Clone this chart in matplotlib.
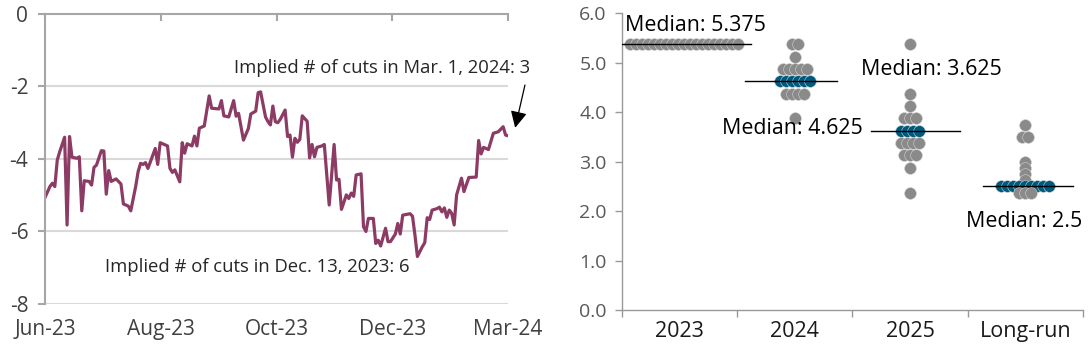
#!/usr/bin/env python3
import numpy as np
import matplotlib
matplotlib.use("Agg")
import matplotlib.pyplot as plt

plt.rcParams['font.family'] = ['Open Sans', 'DejaVu Sans']

# ============================================================================
# left panel: implied number of cuts (trading-day index, value)
days = [0, 2, 3, 4, 5, 6, 8, 9, 10, 11, 13, 14, 15, 16, 18, 19, 20, 21, 23, 24,
        25, 26, 27, 29, 31, 32, 34, 35, 37, 38, 39, 40, 41, 42, 43, 45, 46, 47,
        50, 51, 52, 53, 55, 56, 57, 58, 60, 61, 62, 63, 65, 67, 68, 71, 72, 73,
        75, 77, 78, 79, 81, 83, 84, 86, 87, 88, 90, 91, 92, 93, 94, 95, 96, 98,
        99, 100, 101, 102, 103, 104, 105, 107, 108, 109, 110, 111, 113, 114,
        116, 118, 119, 120, 121, 123, 124, 125, 126, 127, 129, 130, 131, 132,
        134, 135, 136, 137, 139, 140, 141, 143, 144, 145, 146, 149, 150, 151,
        152, 154, 155, 156, 157, 158, 160, 161, 162, 163, 164, 165, 166, 167,
        168, 170, 171, 173, 176, 177, 178, 179, 181, 183, 185, 187, 188, 189]
cuts = [-5.06, -4.76, -4.67, -4.76, -4.03, -3.80, -3.40, -5.82, -3.38, -3.95,
        -3.98, -3.94, -5.43, -4.60, -4.62, -4.72, -4.23, -4.17, -3.77, -3.78,
        -4.97, -4.32, -4.62, -4.55, -4.69, -5.24, -5.30, -5.43, -4.76, -4.35,
        -4.12, -4.15, -4.10, -4.26, -4.08, -3.71, -4.15, -3.55, -3.64, -4.26,
        -4.37, -4.30, -4.63, -3.55, -3.84, -3.58, -3.64, -3.37, -3.64, -3.15,
        -3.09, -2.26, -2.60, -2.62, -2.39, -2.81, -2.84, -2.39, -2.82, -2.74,
        -3.48, -3.16, -2.76, -2.68, -2.17, -2.15, -2.84, -2.97, -3.06, -2.54,
        -2.97, -3.00, -2.91, -2.65, -3.38, -3.34, -3.95, -3.43, -3.54, -3.46,
        -2.81, -2.96, -3.97, -3.60, -3.94, -3.68, -3.64, -3.60, -5.27, -3.60,
        -4.58, -4.56, -5.39, -4.99, -5.09, -4.94, -5.03, -4.44, -4.41, -5.87,
        -6.00, -5.64, -5.64, -6.33, -6.24, -6.40, -5.91, -6.28, -6.28, -6.07,
        -5.78, -6.07, -5.55, -5.51, -5.58, -6.10, -6.69, -6.42, -6.31, -5.62,
        -5.67, -5.41, -5.37, -5.33, -5.46, -5.35, -5.61, -5.41, -5.50, -5.82,
        -4.99, -4.53, -4.90, -4.51, -4.50, -3.49, -3.86, -3.68, -3.74, -3.29,
        -3.25, -3.11, -3.34, -3.36]
date_labels = ['Jun-23', 'Aug-23', 'Oct-23', 'Dec-23', 'Mar-24']

# right panel: FOMC dot plot (rate, number of participants)
years = ['2023', '2024', '2025', 'Long-run']
rates_2023 = [5.375]
count_2023 = [19]
rates_2024 = [5.375, 5.125, 4.875, 4.625, 4.375, 3.875]
count_2024 = [2, 1, 5, 6, 4, 1]
rates_2025 = [5.375, 4.375, 4.125, 3.875, 3.625, 3.375, 3.125, 2.875, 2.375]
count_2025 = [1, 1, 1, 3, 4, 4, 3, 1, 1]
rates_lr = [3.75, 3.5, 3.0, 2.875, 2.75, 2.625, 2.5, 2.375]
count_lr = [1, 2, 1, 1, 1, 1, 9, 3]
medians = [5.375, 4.625, 3.625, 2.5]
blue_rows = [None, 4.625, 3.625, 2.5]

LINE_C = '#8c3b65'
GRAY = '#8a8a8a'
BLUE = '#005a7e'
SPINE = '#a6a6a6'


# ============================================================================
def plot_cuts(ax):
    ax.plot(days, cuts, color=LINE_C, lw=2.3, solid_joinstyle='round')
    ax.set_xlim(0, days[-1])
    ax.set_ylim(-8, 0)
    ax.set_yticks([0, -2, -4, -6, -8])
    ax.set_yticklabels(['0', '-2', '-4', '-6', '-8'])
    ax.set_xticks(np.linspace(0, days[-1], 5))
    ax.set_xticklabels(date_labels)

    for y in [-2, -4, -6, -8]:
        ax.axhline(y, color='#d9d9d9', lw=1.5, zorder=0)

    for s in ['right', 'bottom']:
        ax.spines[s].set_visible(False)
    for s in ['left', 'top']:
        ax.spines[s].set_color(SPINE)
        ax.spines[s].set_linewidth(1.5)

    ax.tick_params(axis='x', top=True, bottom=False, labeltop=False,
                   labelbottom=True, direction='in', length=5, width=1.5,
                   color=SPINE, labelsize=15, labelcolor='#404040', pad=11)
    ax.tick_params(axis='y', direction='out', length=5, width=1.5,
                   color=SPINE, labelsize=15, labelcolor='#404040', pad=7)

    # annotations
    ax.text(198, -1.49, 'Implied # of cuts in Mar. 1, 2024: 3',
            fontsize=13.3, color='#262626', ha='right', va='center',
            clip_on=False)
    ax.annotate('', xy=(191.9, -3.14), xytext=(195.9, -1.96),
                annotation_clip=False,
                arrowprops=dict(arrowstyle='-|>', color='black', lw=0.9,
                                mutation_scale=25, shrinkA=0, shrinkB=0))
    ax.text(24.5, -6.98, 'Implied # of cuts in Dec. 13, 2023: 6',
            fontsize=13.3, color='#262626', ha='left', va='center')


# ============================================================================
def plot_dots(ax):
    all_rates = [rates_2023, rates_2024, rates_2025, rates_lr]
    all_counts = [count_2023, count_2024, count_2025, count_lr]
    step = 0.052
    for i, (rr, cc) in enumerate(zip(all_rates, all_counts)):
        for r, n in zip(rr, cc):
            xs = i + 0.04 * (i == 0) + (np.arange(n) - (n - 1) / 2.0) * step
            col = BLUE if r == blue_rows[i] else GRAY
            ax.scatter(xs, [r] * n, s=72, color=col, edgecolors='#d0d0d0',
                       linewidths=0.4, zorder=3)

    # median lines
    spans = [(-0.5, 0.62), (0.57, 1.37), (1.66, 2.43), (2.63, 3.41)]
    for (x0, x1), m in zip(spans, medians):
        ax.plot([x0, x1], [m, m], color='black', lw=1.0, zorder=4)

    ax.text(-0.47, 5.76, 'Median: 5.375', fontsize=15.4, ha='left', va='center')
    ax.text(0.37, 3.68, 'Median: 4.625', fontsize=15.4, ha='left', va='center')
    ax.text(1.57, 4.87, 'Median: 3.625', fontsize=15.4, ha='left', va='center')
    ax.text(3.49, 1.79, 'Median: 2.5', fontsize=15.4, ha='right', va='center')

    ax.set_xlim(-0.5, 3.5)
    ax.set_ylim(0, 6)
    ax.set_yticks(np.arange(0, 6.5, 1.0))
    ax.set_yticklabels(['%.1f' % v for v in np.arange(0, 6.5, 1.0)])
    ax.set_xticks(range(4))
    ax.set_xticklabels(years)
    ax.set_xticks([-0.5, 0.5, 1.5, 2.5, 3.5], minor=True)

    for s in ['right', 'top']:
        ax.spines[s].set_visible(False)
    for s in ['left', 'bottom']:
        ax.spines[s].set_color('#999999')
        ax.spines[s].set_linewidth(1.0)

    ax.tick_params(axis='x', which='major', length=0, labelsize=15.5,
                   labelcolor='#1a1a1a', pad=8)
    ax.tick_params(axis='x', which='minor', length=5, width=1.0,
                   color='#999999')
    ax.tick_params(axis='y', length=5, width=1.0, color='#999999',
                   labelsize=14, labelcolor='#595959', pad=6)


# ============================================================================
def real_main():
    fig = plt.figure(figsize=(10.9, 3.52), dpi=100)
    ax1 = fig.add_axes([0.0413, 0.1364, 0.4248, 0.8239])
    ax2 = fig.add_axes([0.5706, 0.1193, 0.4229, 0.8429])
    plot_cuts(ax1)
    plot_dots(ax2)
    fig.savefig('out.png', dpi=100)


# ============================================================================
if __name__ == "__main__":
    real_main()
